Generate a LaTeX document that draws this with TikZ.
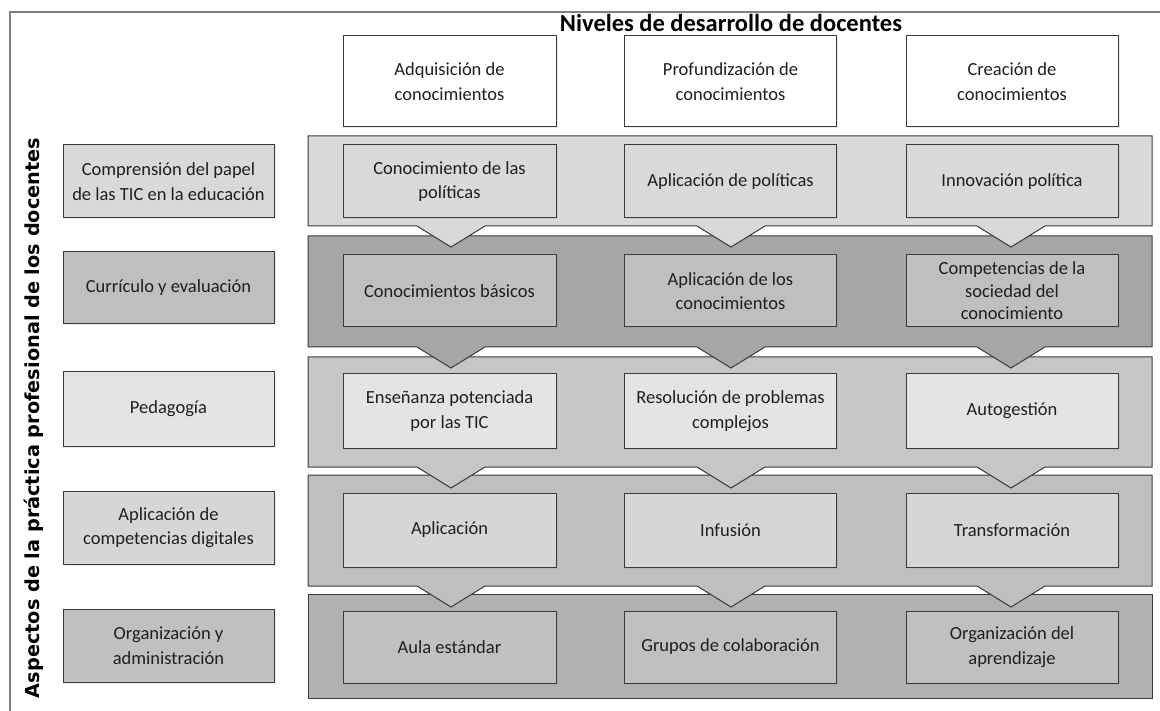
\documentclass[tikz,border=0pt]{standalone}
\usepackage{fontspec}
\setmainfont{Carlito}
\newfontfamily\vfont{DejaVu Sans}
\usetikzlibrary{shadows}
\definecolor{edge}{HTML}{3A3A3A}
\definecolor{txt}{HTML}{1F1F1F}
\definecolor{frm}{HTML}{808080}
\definecolor{bandA}{HTML}{D9D9D9}
\definecolor{cellA}{HTML}{D9D9D9}
\definecolor{bandB}{HTML}{A6A6A6}
\definecolor{cellB}{HTML}{BFBFBF}
\definecolor{bandC}{HTML}{C6C6C6}
\definecolor{cellC}{HTML}{E4E4E4}
\definecolor{bandD}{HTML}{BFBFBF}
\definecolor{cellD}{HTML}{D6D6D6}
\definecolor{bandE}{HTML}{B1B1B1}
\definecolor{cellE}{HTML}{C0C0C0}
\newcommand\chevband[3]{%
  \draw[band, fill=#3] (308,#1) -- (1152,#1) -- (1152,#2)
    -- (1045,#2) -- (1011,{#2+21}) -- (977,#2)
    -- (765,#2) -- (731,{#2+21}) -- (697,#2)
    -- (485,#2) -- (451,{#2+21}) -- (417,#2)
    -- (308,#2) -- cycle;}
\begin{document}
\begin{tikzpicture}[x=1pt,y=-1pt,
  cell/.style={draw=edge, line width=1pt, rectangle, align=center, inner sep=0pt,
    text=txt, font=\fontsize{18.5}{24.5}\selectfont,
    drop shadow={shadow xshift=1.5pt, shadow yshift=-1.5pt, opacity=0.15}},
  band/.style={draw=edge, line width=1pt},
  lab/.style={cell, minimum width=211},
  colA/.style={cell, minimum width=213},
  colB/.style={cell, minimum width=212},
  colC/.style={cell, minimum width=212},
  frame/.style={draw=frm, line width=2pt},
]
\useasboundingbox (0,0) rectangle (1160,711);
% frame
\coordinate (fb) at (10,711);
\coordinate (fc) at (10,12);
\coordinate (fr) at (1160,12);
\draw[frame] (fb) -- (fc) -- (fr);

% bands (bottom first so chevrons overlap the band below)
\draw[band, fill=bandE] (308,594) rectangle (1152,698);
\chevband{475}{586}{bandD}
\chevband{357}{467}{bandC}
\chevband{236}{347}{bandB}
\chevband{136}{226}{bandA}

% titles
\node[anchor=base, inner sep=0pt] (title) at (731,32)
  {\resizebox{342pt}{!}{\bfseries Niveles de desarrollo de docentes}};
\node[rotate=90, inner sep=0pt] (vtitle) at (33.5,418)
  {\resizebox{560pt}{!}{\vfont\bfseries Aspectos de la práctica profesional de los docentes}};

% header
\node[colA, fill=white, minimum height=91] (h1) at (449.5,81.5) {Adquisición de\\conocimientos};
\node[colB, fill=white, minimum height=91] (h2) at (730.5,81.5) {Profundización de\\conocimientos};
\node[colC, fill=white, minimum height=91] (h3) at (1012,81.5) {Creación de\\conocimientos};

% row 1
\node[lab, fill=cellA, minimum height=73] (l1) at (168.5,181.5) {Comprensión del papel\\de las TIC en la educación};
\node[colA, fill=cellA, minimum height=73] (a1) at (449.5,181.5) {Conocimiento de las\\políticas};
\node[colB, fill=cellA, minimum height=73] (b1) at (730.5,181.5) {Aplicación de políticas};
\node[colC, fill=cellA, minimum height=73] (c1) at (1012,181.5) {Innovación política};

% row 2
\node[lab, fill=cellB, minimum height=72] (l2) at (168.5,288) {Currículo y evaluación};
\node[colA, fill=cellB, minimum height=72] (a2) at (449.5,291) {Conocimientos básicos};
\node[colB, fill=cellB, minimum height=72] (b2) at (730.5,291) {Aplicación de los\\conocimientos};
\node[colC, fill=cellB, minimum height=72, font=\fontsize{18.5}{22.5}\selectfont] (c2) at (1012,291) {Competencias de la\\sociedad del\\conocimiento};

% row 3
\node[lab, fill=cellC, minimum height=74] (l3) at (168.5,409) {Pedagogía};
\node[colA, fill=cellC, minimum height=74] (a3) at (449.5,411) {Enseñanza potenciada\\por las TIC};
\node[colB, fill=cellC, minimum height=74] (b3) at (730.5,411) {Resolución de problemas\\complejos};
\node[colC, fill=cellC, minimum height=74] (c3) at (1012,411) {Autogestión};

% row 4
\node[lab, fill=cellD, minimum height=73] (l4) at (168.5,527.5) {Aplicación de\\competencias digitales};
\node[colA, fill=cellD, minimum height=74] (a4) at (449.5,530) {Aplicación};
\node[colB, fill=cellD, minimum height=74] (b4) at (730.5,530) {Infusión};
\node[colC, fill=cellD, minimum height=74] (c4) at (1012,530) {Transformación};

% row 5
\node[lab, fill=cellE, minimum height=73] (l5) at (168.5,645.5) {Organización y\\administración};
\node[colA, fill=cellE, minimum height=72] (a5) at (449.5,647) {Aula estándar};
\node[colB, fill=cellE, minimum height=72] (b5) at (730.5,647) {Grupos de colaboración};
\node[colC, fill=cellE, minimum height=72] (c5) at (1012,647) {Organización del\\aprendizaje};
\end{tikzpicture}
\end{document}
